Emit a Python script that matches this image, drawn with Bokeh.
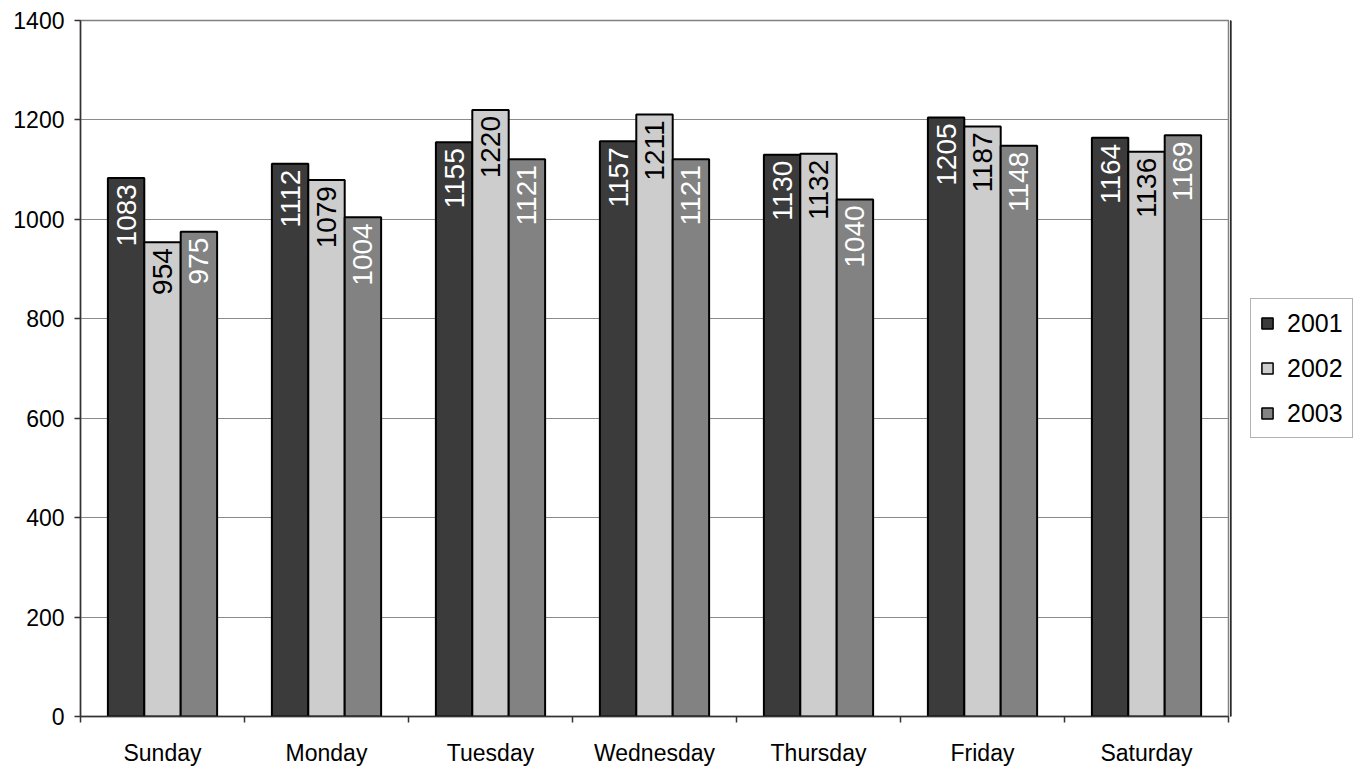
import numpy as np
from bokeh.plotting import figure
from bokeh.layouts import row
from bokeh.models import (ColumnDataSource, Range1d, FixedTicker, Legend, LegendItem)
from bokeh.core.properties import value
from bokeh.embed import file_html
from bokeh.resources import INLINE

days = ["Sunday", "Monday", "Tuesday", "Wednesday", "Thursday", "Friday", "Saturday"]
years = ["2001", "2002", "2003"]
v2001 = [1083, 1112, 1155, 1157, 1130, 1205, 1164]
v2002 = [954, 1079, 1220, 1211, 1132, 1187, 1136]
v2003 = [975, 1004, 1121, 1121, 1040, 1148, 1169]
y_ticks = [0, 200, 400, 600, 800, 1000, 1200, 1400]

series = [v2001, v2002, v2003]
fills = ["#3b3b3b", "#cdcdcd", "#828282"]
label_colors = ["white", "black", "white"]
offsets = [-0.222, 0.0, 0.222]
bar_w = 0.222

FONT = "Liberation Sans"

p = figure(width=1230, height=768, output_backend="svg", toolbar_location=None,
           x_range=Range1d(0, len(days)), y_range=Range1d(0, 1400),
           min_border_left=80, min_border_right=2, min_border_top=20, min_border_bottom=52)
p.background_fill_color = "white"
p.border_fill_color = "white"
p.outline_line_color = "#808080"
p.outline_line_width = 1.5

centers = [i + 0.5 for i in range(len(days))]

# x axis
p.xaxis.ticker = FixedTicker(ticks=centers, minor_ticks=list(range(len(days) + 1)))
p.xaxis.major_label_overrides = {c: d for c, d in zip(centers, days)}
p.xaxis.major_tick_line_color = None
p.xaxis.major_tick_out = 0
p.xaxis.major_tick_in = 0
p.xaxis.minor_tick_out = 6
p.xaxis.minor_tick_in = 0
p.xaxis.minor_tick_line_color = "#333333"
p.xaxis.minor_tick_line_width = 1.5
p.xaxis.axis_line_color = "#333333"
p.xaxis.axis_line_width = 1.5
p.xaxis.major_label_text_font = FONT
p.xaxis.major_label_text_font_size = "23px"
p.xaxis.major_label_text_color = "black"
p.xaxis.major_label_standoff = 17

# y axis
p.yaxis.ticker = FixedTicker(ticks=y_ticks)
p.yaxis.minor_tick_line_color = None
p.yaxis.major_tick_out = 6
p.yaxis.major_tick_in = 0
p.yaxis.major_tick_line_color = "#333333"
p.yaxis.major_tick_line_width = 1.5
p.yaxis.axis_line_color = "#333333"
p.yaxis.axis_line_width = 1.5
p.yaxis.major_label_text_font = FONT
p.yaxis.major_label_text_font_size = "23px"
p.yaxis.major_label_text_color = "black"
p.yaxis.major_label_standoff = 10

p.xgrid.grid_line_color = None
p.ygrid.grid_line_color = "#8a8a8a"
p.ygrid.grid_line_width = 1.2

# legend-only figure
pl = figure(width=124, height=768, output_backend="svg", toolbar_location=None,
            x_range=Range1d(0, 1), y_range=Range1d(0, 1),
            x_axis_type=None, y_axis_type=None,
            min_border_left=0, min_border_right=0, min_border_top=0, min_border_bottom=0)
pl.outline_line_color = None
pl.background_fill_color = "white"
pl.border_fill_color = "white"
pl.xgrid.grid_line_color = None
pl.ygrid.grid_line_color = None

items = []
for yr, vals, fc, lc, off in zip(years, series, fills, label_colors, offsets):
    src = ColumnDataSource(dict(x=[c + off for c in centers], top=vals,
                                lab=[str(v) for v in vals]))
    p.vbar(x="x", top="top", width=bar_w, bottom=0, source=src,
           fill_color=fc, line_color="black", line_width=2)
    p.text(x="x", y="top", text="lab", source=src, angle=np.pi / 2,
           text_align="right", text_baseline="middle", y_offset=6,
           text_font=value(FONT), text_font_size="28px", text_color=lc)
    # hidden proxy (outside the legend figure's view) for the legend swatch
    rl = pl.vbar(x=[-5], top=[1], width=0.5, bottom=0,
                 fill_color=fc, line_color="black", line_width=1.5)
    items.append(LegendItem(label=yr, renderers=[rl]))

legend = Legend(items=items, location=(20, 278))
legend.label_text_font = FONT
legend.label_text_font_size = "25px"
legend.label_text_color = "black"
legend.glyph_width = 14
legend.glyph_height = 14
legend.label_height = 30
legend.spacing = 15
legend.padding = 9
legend.label_standoff = 13
legend.border_line_color = "#666666"
legend.border_line_width = 1.2
legend.background_fill_color = "white"
legend.margin = 0
pl.add_layout(legend, "center")

layout = row(p, pl, spacing=0)
open("out.html", "w").write(file_html(layout, INLINE))
